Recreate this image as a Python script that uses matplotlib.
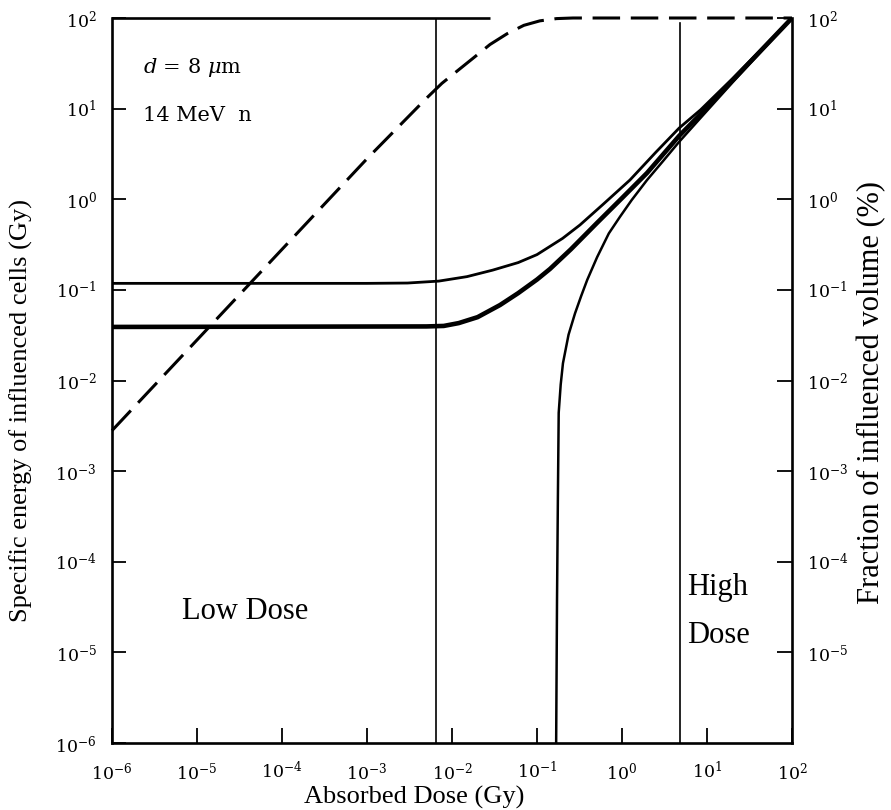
import matplotlib
matplotlib.use("Agg")
import matplotlib.pyplot as plt
from matplotlib.ticker import LogFormatterSciNotation, NullLocator, FixedLocator

plt.rcParams['mathtext.fontset'] = 'dejavuserif'
plt.rcParams['font.family'] = ['DejaVu Serif']

# ---- data ----
dose_frac = [1e-6, 1e-5, 1e-4, 1e-3, 5e-3, 7.6e-3, 0.0115, 0.0177, 0.028, 0.0444,
             0.07, 0.108, 0.17, 0.265, 1.0, 10.0, 100.0]
frac_vol = [2.8e-3, 0.028, 0.28, 2.8, 13, 19, 26, 36, 51, 67,
            83, 93, 98.5, 100, 100, 100, 100]

dose_upper = [1e-6, 1e-3, 3e-3, 7e-3, 0.015, 0.03, 0.06, 0.1, 0.2, 0.32, 0.6,
              1.24, 2.5, 4.7, 8.4, 20, 100]
z_upper = [0.118, 0.118, 0.119, 0.125, 0.14, 0.165, 0.2, 0.245, 0.37, 0.52, 0.88,
           1.63, 3.3, 6.1, 9.7, 21.5, 100]

dose_mid = [1e-6, 5e-3, 8e-3, 0.012, 0.02, 0.0367, 0.06, 0.1, 0.142, 0.25, 0.51,
            1.0, 1.97, 4.7, 8.4, 20, 100]
z_mid = [0.039, 0.0395, 0.040, 0.043, 0.05, 0.068, 0.092, 0.13, 0.17, 0.28, 0.55,
         1.03, 1.95, 5.0, 8.7, 20.5, 100]

dose_lower = [0.168, 0.172, 0.176, 0.18, 0.19, 0.202, 0.235, 0.28, 0.33, 0.39, 0.51,
              0.7, 0.946, 1.3, 1.97, 3.0, 4.7, 8.4, 20, 100]
z_lower = [1e-6, 3.8e-5, 4.8e-4, 4.4e-3, 0.009, 0.0155, 0.032, 0.055, 0.085, 0.129, 0.23,
           0.42, 0.64, 0.98, 1.63, 2.6, 4.3, 7.9, 19.5, 100]

boundary_low = 6.5e-3
boundary_high = 4.8

x_ticks = [10.0 ** k for k in range(-6, 3)]
y_ticks_left = [10.0 ** k for k in range(-6, 3)]
y_ticks_right = [10.0 ** k for k in range(-5, 3)]

# ---- figure ----
fig = plt.figure(figsize=(8.91, 8.10), dpi=100)
ax = fig.add_axes([112 / 891, 1 - 743 / 810, 680 / 891, 725 / 810])
ax.set_xscale('log')
ax.set_yscale('log')
ax.set_xlim(1e-6, 1e2)
ax.set_ylim(1e-6, 1e2)

spine_lw = 1.9
for s in ['left', 'right', 'bottom']:
    ax.spines[s].set_linewidth(spine_lw)
ax.spines['top'].set_visible(False)
# solid part of top frame
ax.plot([1e-6, 0.028], [100, 100], color='black', lw=spine_lw, clip_on=False,
        solid_capstyle='butt')

ax.axvline(boundary_low, color='black', lw=1.2)
ax.axvline(boundary_high, color='black', lw=1.2, ymax=0.993)

ax.plot(dose_frac, frac_vol, color='black', lw=2.2, linestyle=(0, (9, 3.5)), clip_on=False)
ax.plot(dose_upper, z_upper, color='black', lw=2.0, solid_joinstyle='round')
ax.plot(dose_mid, z_mid, color='black', lw=3.3, solid_joinstyle='round')
ax.plot(dose_lower, z_lower, color='black', lw=1.8, solid_joinstyle='round')

ax.xaxis.set_major_locator(FixedLocator(x_ticks))
ax.yaxis.set_major_locator(FixedLocator(y_ticks_left))
ax.xaxis.set_minor_locator(NullLocator())
ax.yaxis.set_minor_locator(NullLocator())
ax.xaxis.set_major_formatter(LogFormatterSciNotation())
ax.yaxis.set_major_formatter(LogFormatterSciNotation())
ax.tick_params(axis='x', direction='in', length=11, width=1.3, pad=13, labelsize=12.5, top=False)
ax.tick_params(axis='y', direction='in', length=10, width=1.3, pad=11, labelsize=12.5, right=False)

tw = ax.twinx()
tw.set_yscale('log')
tw.set_ylim(1e-6, 1e2)
tw.yaxis.set_major_locator(FixedLocator(y_ticks_right))
tw.yaxis.set_minor_locator(NullLocator())
tw.yaxis.set_major_formatter(LogFormatterSciNotation())
tw.tick_params(axis='y', direction='in', length=11, width=1.3, pad=11, labelsize=12.5)
for s in tw.spines.values():
    s.set_visible(False)

# annotations
ax.text(0.046, 0.932, r'$d$ = 8 $\mu$m', transform=ax.transAxes, ha='left', va='center', fontsize=15)
ax.text(0.046, 0.866, '14 MeV  n', transform=ax.transAxes, ha='left', va='center', fontsize=15)
ax.text(0.103, 0.181, 'Low Dose', transform=ax.transAxes, ha='left', va='center',
        fontsize=22, family='Liberation Serif')
ax.text(0.846, 0.215, 'High', transform=ax.transAxes, ha='left', va='center',
        fontsize=22, family='Liberation Serif')
ax.text(0.846, 0.148, 'Dose', transform=ax.transAxes, ha='left', va='center',
        fontsize=22, family='Liberation Serif')

fig.text(414 / 891, 1 - 797 / 810, 'Absorbed Dose (Gy)', ha='center', va='center',
         fontsize=19, family='Liberation Serif')
fig.text(21.5 / 891, 1 - 410 / 810, 'Specific energy of influenced cells (Gy)', rotation=90,
         ha='center', va='center', fontsize=19, family='Liberation Serif')
fig.text(872 / 891, 1 - 392 / 810, 'Fraction of influenced volume (%)', rotation=90,
         ha='center', va='center', fontsize=22, family='Liberation Serif')

fig.savefig('out.png', dpi=100, facecolor='white')
